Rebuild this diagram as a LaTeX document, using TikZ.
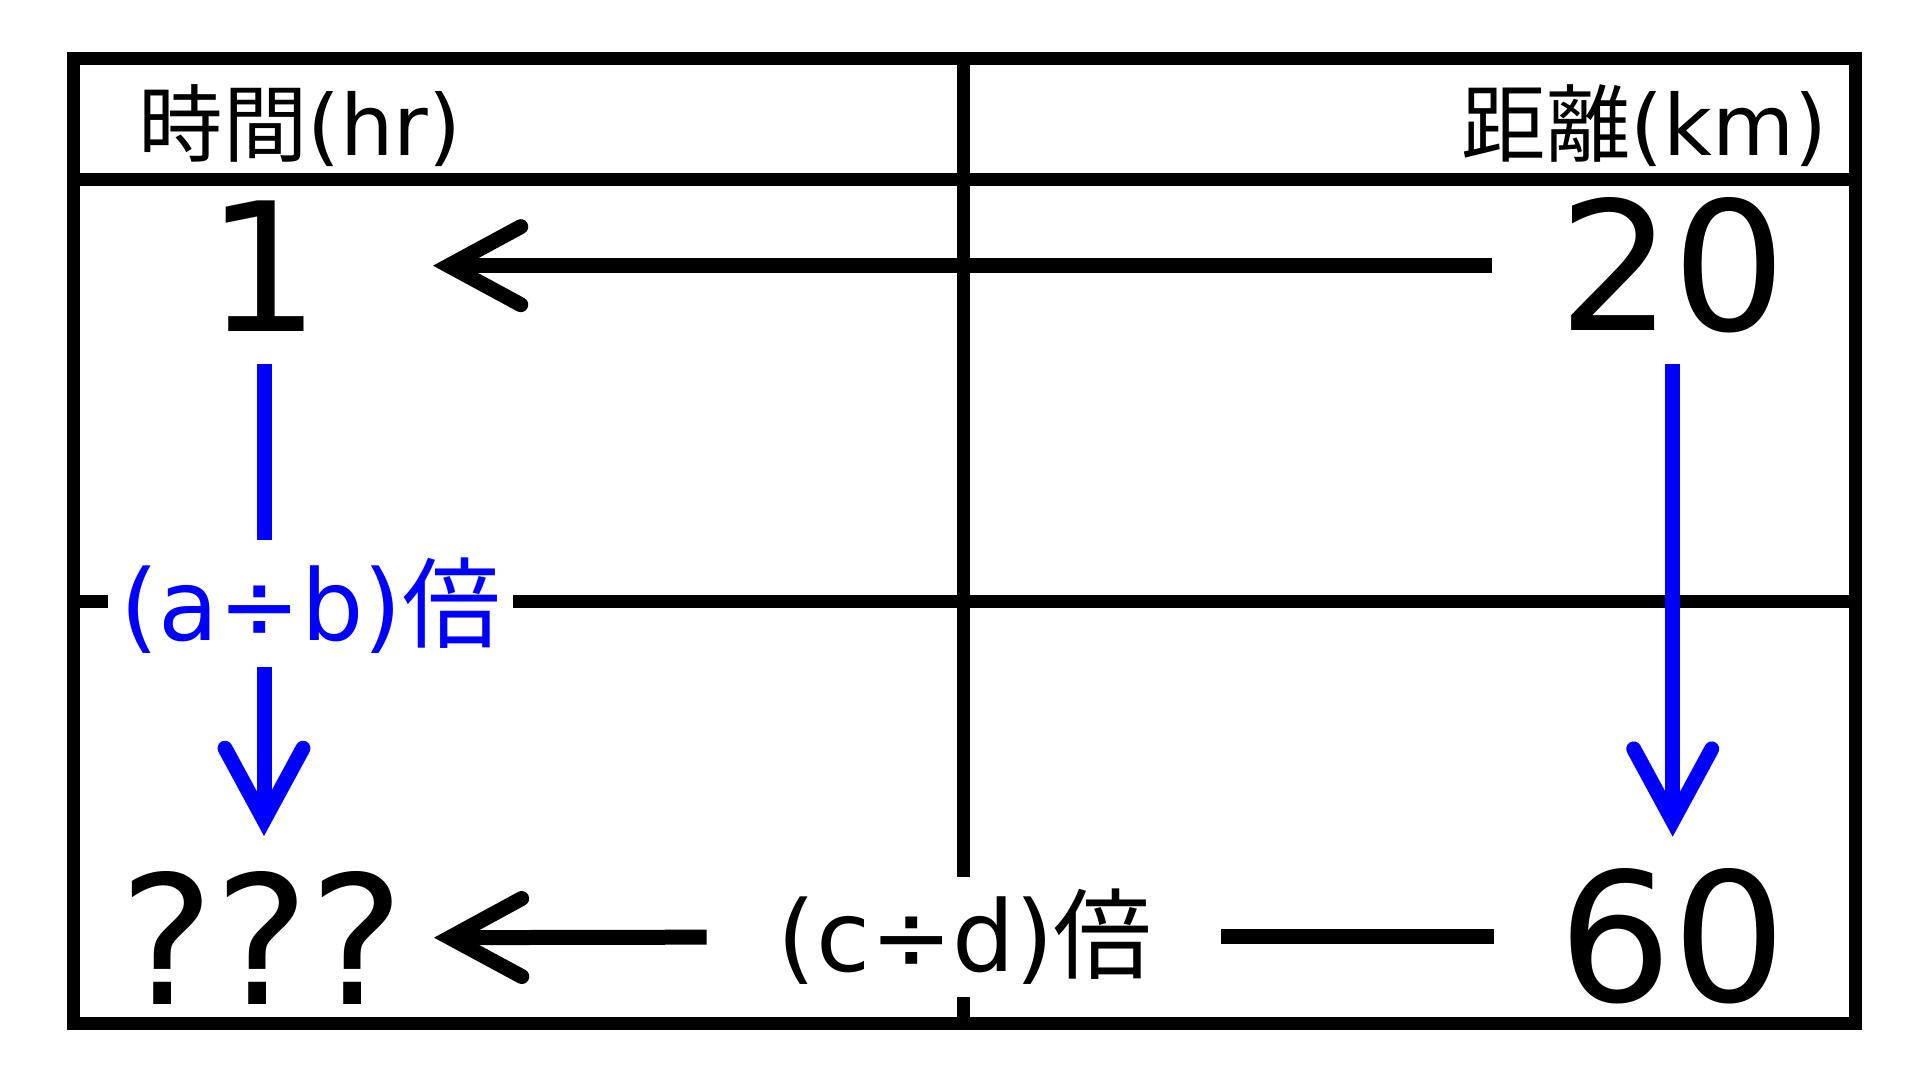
\documentclass[tikz,border=0pt]{standalone}
\usepackage{fontspec}
\setmainfont{DejaVu Sans}
\newfontfamily\jpfont{Noto Sans CJK JP}
\usepackage{tikz}
\usetikzlibrary{arrows.meta, positioning}

\begin{document}
\begin{tikzpicture}[
  grid/.style={line width=0.13cm},
  ln/.style={line width=0.15cm},
  arr/.style={ln, -{Straight Barb[length=0.72cm, width=0.78cm, line cap=round, line join=miter]}},
  num/.style={font=\fontsize{51}{60}\selectfont, inner sep=0pt},
  hd/.style={font=\fontsize{24}{28}\selectfont, inner sep=0pt},
  lbl/.style={font=\fontsize{28}{32}\selectfont, fill=white, inner sep=0.12cm}
]
  \useasboundingbox (0,0) rectangle (19.2,10.8);

  % table
  \draw[grid] (0.735,0.563) rectangle (18.55,10.212);
  \draw[grid] (0.735,9.0) -- (18.55,9.0);
  \draw[grid] (0.735,4.788) -- (18.55,4.788);
  \draw[grid] (9.637,0.563) -- (9.637,10.212);

  \node[hd] (time) at (3.0,9.545) {{\jpfont 時間}(hr)};
  \node[hd] (dist) at (16.445,9.545) {{\jpfont 距離}(km)};

  \node[num] (one) at (2.64,8.143) {1};
  \node[num] (twenty) at (16.727,8.143) {20};
  \node[num] (qqq) at (2.62,1.42) {???};
  \node[num] (sixty) at (16.727,1.433) {60};

  \node[lbl, text=blue] (ab) at (3.103,4.74) {(a÷b){\jpfont 倍}};
  \node[lbl] (cd) at (9.65,1.433) {(c÷d){\jpfont 倍}};

  \draw[arr, shorten <=1.81cm, shorten >=1.69cm] (twenty.center) -- (one.center);
  \draw[ln, blue, shorten <=0.98cm, shorten >=0.66cm] (one.center) -- (one |- ab);
  \draw[arr, blue, shorten <=0.61cm, shorten >=1.02cm] (one |- ab) -- (one |- qqq);
  \draw[arr, blue, shorten <=0.98cm, shorten >=1.0cm] (twenty.center) -- (sixty.center);
  \draw[ln, shorten <=1.79cm, shorten >=2.56cm] (sixty.center) -- (cd.center);
  \draw[arr, shorten <=2.585cm, shorten >=1.72cm] (cd.center) -- (qqq.center);
\end{tikzpicture}
\end{document}
